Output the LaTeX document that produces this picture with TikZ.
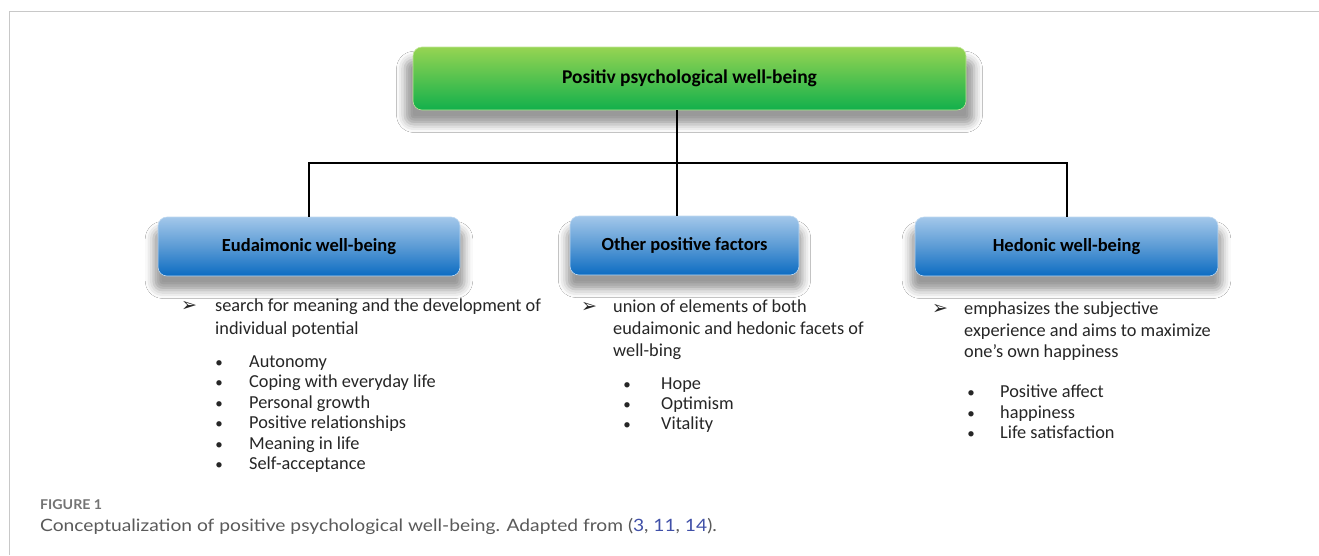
\documentclass[tikz,border=0pt]{standalone}
\usepackage{fontspec}
\setmainfont{Carlito}
\newfontfamily\dejavu{DejaVu Sans}
\newfontfamily\capfont[FakeStretch=1.13]{Lato}
\newfontfamily\figfont[FakeStretch=1.05]{Lato}
\usetikzlibrary{shadows.blur}
\definecolor{frameg}{HTML}{C8C8C8}
\definecolor{bluetop}{HTML}{A3C7EA}
\definecolor{bluemid}{HTML}{5B9BD5}
\definecolor{bluebot}{HTML}{0C6CC2}
\definecolor{greentop}{HTML}{96D452}
\definecolor{greenbot}{HTML}{12B04C}
\definecolor{capgray}{HTML}{5A5A5A}
\definecolor{citeblue}{HTML}{4050A8}
\tikzset{
  shadowed/.style={blur shadow={shadow xshift=0pt, shadow yshift=-13pt, shadow blur radius=8pt, shadow opacity=40, shadow scale=1.03}},
  bluebox/.style={rounded corners=9pt, minimum height=59pt, top color=bluetop, bottom color=bluebot, middle color=bluemid, draw=bluetop!70!white, line width=0.6pt, shadowed, font=\fontsize{18.5}{22}\selectfont\bfseries, inner sep=0pt},
  greenbox/.style={rounded corners=9pt, minimum height=63pt, top color=greentop, bottom color=greenbot, draw=greentop!60!white, line width=0.6pt, shadowed, font=\fontsize{19.5}{22}\selectfont\bfseries, inner sep=0pt},
  conn/.style={draw=black, line width=2pt},
  txt/.style={anchor=base west, inner sep=0pt, font=\fontsize{18.3}{22}\selectfont, text=black!85},
  bul/.style={anchor=base, inner sep=0pt, font=\fontsize{15}{19}\selectfont, text=black!85},
  arr/.style={anchor=base, inner sep=0pt, font=\dejavu\fontsize{19}{22}\selectfont, text=black!85},
}
\begin{document}
\begin{tikzpicture}[x=1pt,y=-1pt]
\useasboundingbox (0,0) rectangle (1319,555);
\fill[white] (0,0) rectangle (1319,555);
% frame
\draw[frameg, line width=1.5pt] (9.5,555) -- (9.5,11.5) -- (1319,11.5);

% boxes
\node[greenbox, minimum width=553pt] (top) at (689.5,78.5) {Positiv psychological well-being};
\node[bluebox, minimum width=302pt] (eud) at (309,246.5) {Eudaimonic well-being};
\node[bluebox, minimum width=229pt] (oth) at (684.5,245.5) {Other positive factors};
\node[bluebox, minimum width=303pt] (hed) at (1066.5,246.5) {Hedonic well-being};

% connectors
\coordinate (bus) at (677,163);
\draw[conn] (eud.north) |- (bus) -| (hed.north);
\draw[conn] (top.south -| bus) -- (bus |- oth.north);

% Eudaimonic text
\node[arr] (ea) at (189,311) {➢};
\node[txt] (e1) at (215,311) {search for meaning and the development of};
\node[txt] (e2) at (215,334.3) {individual potential};
\foreach \t [count=\i] in {Autonomy,Coping with everyday life,Personal growth,Positive relationships,Meaning in life,Self-acceptance}{
  \pgfmathsetmacro{\yy}{367+20.5*(\i-1)}
  \node[bul] (eb\i) at (219,\yy) {•};
  \node[txt] (ei\i) at (249,\yy) {\t};
}

% Other text
\node[arr] (oa) at (589,312.3) {➢};
\node[txt] (o1) at (613,312.3) {union of elements of both};
\node[txt] (o2) at (613,334.3) {eudaimonic and hedonic facets of};
\node[txt] (o3) at (613,356.3) {well-bing};
\foreach \t [count=\i] in {Hope,Optimism,Vitality}{
  \pgfmathsetmacro{\yy}{389.3+20*(\i-1)}
  \node[bul] (ob\i) at (627,\yy) {•};
  \node[txt] (oi\i) at (661,\yy) {\t};
}

% Hedonic text
\node[arr] (ha) at (940,314.3) {➢};
\node[txt] (h1) at (964,314.3) {emphasizes the subjective};
\node[txt] (h2) at (964,336) {experience and aims to maximize};
\node[txt] (h3) at (964,357.6) {one's own happiness};
\foreach \t [count=\i] in {Positive affect,happiness,Life satisfaction}{
  \pgfmathsetmacro{\yy}{397.6+20.4*(\i-1)}
  \node[bul] (hb\i) at (971,\yy) {•};
  \node[txt] (hi\i) at (1000,\yy) {\t};
}

% caption
\node[anchor=base west, inner sep=0pt, font=\figfont\bfseries\fontsize{13.5}{15}\selectfont, text=capgray!85] (fig) at (40,509) {FIGURE 1};
\node[anchor=base west, inner sep=0pt, font=\capfont\fontsize{17}{20}\selectfont, text=capgray] (cap) at (40,531.5) {Conceptualization of positive psychological well-being. Adapted from (\textcolor{citeblue}{3}, \textcolor{citeblue}{11}, \textcolor{citeblue}{14}).};
\end{tikzpicture}
\end{document}
